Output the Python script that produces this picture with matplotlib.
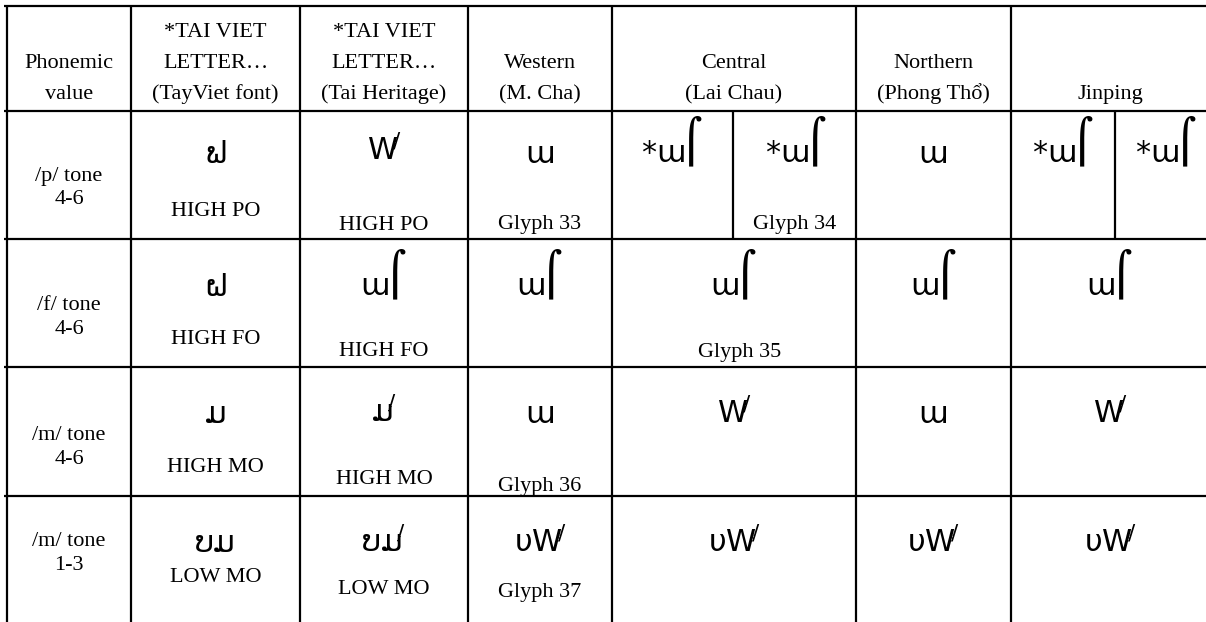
import matplotlib
matplotlib.use("Agg")
import matplotlib.pyplot as plt

plt.rcParams["mathtext.fontset"] = "dejavusans"
plt.rcParams["mathtext.default"] = "regular"

# ---------------- data ----------------
header_phonemic = ["Phonemic", "value"]
header_tayviet = ["*TAI VIET", "LETTER…", "(TayViet font)"]
header_heritage = ["*TAI VIET", "LETTER…", "(Tai Heritage)"]
header_western = ["Western", "(M. Cha)"]
header_central = ["Central", "(Lai Chau)"]
header_northern = ["Northern", "(Phong Thổ)"]
header_jinping = ["Jinping"]

phonemic_values = [["/p/ tone", "4-6"], ["/f/ tone", "4-6"],
                   ["/m/ tone", "4-6"], ["/m/ tone", "1-3"]]
letter_names = ["HIGH PO", "HIGH FO", "HIGH MO", "LOW MO"]

# glyph look-alikes (no Tai Viet font is installed): base letter + mark
tayviet_glyphs = [("ຟ", ""), ("ຝ", ""), ("ມ", ""), ("ບມ", "")]
heritage_glyphs = [("W", "tick"), ("ɯ", "arc"), ("ມ", "tick"), ("ບມ", "tick")]
western_glyphs = [("ɯ", ""), ("ɯ", "arc"), ("ɯ", ""), ("υW", "tick")]
western_labels = ["Glyph 33", "", "Glyph 36", "Glyph 37"]
central_glyphs = [[("*ɯ", "arc"), ("*ɯ", "arc")], [("ɯ", "arc")], [("W", "tick")], [("υW", "tick")]]
central_labels = ["Glyph 34", "Glyph 35", "", ""]
northern_glyphs = [("ɯ", ""), ("ɯ", "arc"), ("ɯ", ""), ("υW", "tick")]
jinping_glyphs = [[("*ɯ", "arc"), ("*ɯ", "arc")], [("ɯ", "arc")], [("W", "tick")], [("υW", "tick")]]

# ---------------- layout ----------------
W, H = 1206, 622
col_x = [7, 131, 300, 468, 612, 856, 1011, 1209]
row_y = [6, 111, 239, 367, 496, 626]
split_central = 733
split_jinping = 1115
LW = 1.6
TXT = dict(family=["Liberation Serif", "DejaVu Serif"], fontsize=16, color="black")
GLY_FS = 22
ARC_FS = 31
SUB_DROP = 7

fig = plt.figure(figsize=(W / 100, H / 100), dpi=100)
ax = fig.add_axes([0, 0, 1, 1])
ax.set_xlim(0, W)
ax.set_ylim(H, 0)
ax.axis("off")

# grid lines
for y in row_y[:-1]:
    ax.plot([4, W], [y, y], color="black", lw=LW, solid_capstyle="butt")
for x in col_x[:-1]:
    ax.plot([x, x], [row_y[0], H], color="black", lw=LW, solid_capstyle="butt")
for x in (split_central, split_jinping):
    ax.plot([x, x], [row_y[1], row_y[2]], color="black", lw=LW, solid_capstyle="butt")


def cx(i):
    return (col_x[i] + col_x[i + 1]) / 2


def glyph(x, baseline, spec):
    base, mark = spec
    if mark == "arc":
        s = r"${}_{%s}\!⌠$" % base
        ax.text(x, baseline - SUB_DROP, s, ha="center", va="baseline",
                family=["DejaVu Sans"], fontsize=ARC_FS, color="black")
    elif mark == "tick":
        ax.text(x, baseline, base + r"$\!{}^{/}$", ha="center", va="baseline",
                family=["DejaVu Sans"], fontsize=GLY_FS, color="black")
    else:
        ax.text(x, baseline, base, ha="center", va="baseline",
                family=["DejaVu Sans"], fontsize=GLY_FS, color="black")


def header(i, lines, xc=None):
    xc = cx(i) if xc is None else xc
    n = len(lines)
    for k, s in enumerate(lines):
        ax.text(xc, 99 - (n - 1 - k) * 31, s, ha="center", va="baseline", **TXT)


header(0, header_phonemic)
header(1, header_tayviet)
header(2, header_heritage)
header(3, header_western)
header(4, header_central)
header(5, header_northern)
header(6, header_jinping, xc=1110)

col0_off = [65, 66, 68, 46]
glyph_base = [52, 57, 56, 56]
th_base = [49, 57, 55, 56]
tv_label_off = [100, 101, 101, 81]
th_label_off = [114, 113, 113, 94]
w_label_off = [114, 113, 120, 96]

for r in range(4):
    top = row_y[r + 1]
    a, b = phonemic_values[r]
    ax.text(cx(0), top + col0_off[r], a, ha="center", va="center", **TXT)
    ax.text(cx(0), top + col0_off[r] + 24, b, ha="center", va="center", **TXT)
    # TayViet font
    glyph(cx(1), top + glyph_base[r], tayviet_glyphs[r])
    ax.text(cx(1), top + tv_label_off[r], letter_names[r], ha="center", va="center", **TXT)
    # Tai Heritage
    glyph(cx(2), top + th_base[r], heritage_glyphs[r])
    ax.text(cx(2), top + th_label_off[r], letter_names[r], ha="center", va="center", **TXT)
    # Western
    glyph(cx(3), top + glyph_base[r], western_glyphs[r])
    if western_labels[r]:
        ax.text(cx(3), top + w_label_off[r], western_labels[r], ha="center", va="center", **TXT)
    # Central
    if len(central_glyphs[r]) == 2:
        glyph((col_x[4] + split_central) / 2, top + glyph_base[r], central_glyphs[r][0])
        glyph((split_central + col_x[5]) / 2 + 2, top + glyph_base[r], central_glyphs[r][1])
        ax.text((split_central + col_x[5]) / 2, top + 114, central_labels[r], ha="center", va="center", **TXT)
    else:
        glyph(cx(4), top + glyph_base[r], central_glyphs[r][0])
        if central_labels[r]:
            ax.text(cx(4) + 6, top + 113, central_labels[r], ha="center", va="center", **TXT)
    # Northern
    glyph(cx(5), top + glyph_base[r], northern_glyphs[r])
    # Jinping
    if len(jinping_glyphs[r]) == 2:
        glyph((col_x[6] + split_jinping) / 2, top + glyph_base[r], jinping_glyphs[r][0])
        glyph((split_jinping + col_x[7]) / 2 + 4, top + glyph_base[r], jinping_glyphs[r][1])
    else:
        glyph(1110, top + glyph_base[r], jinping_glyphs[r][0])

fig.savefig("out.png", dpi=100)
